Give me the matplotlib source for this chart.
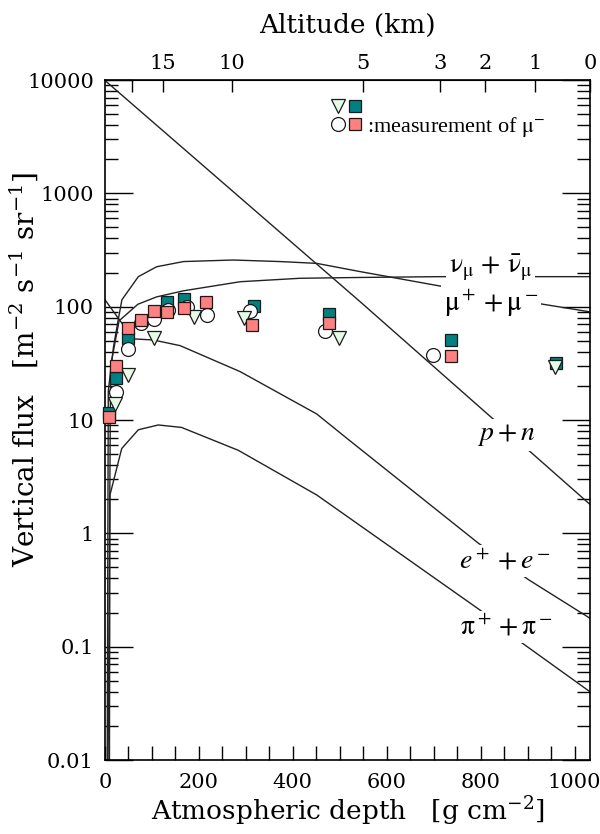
import numpy as np
import matplotlib
matplotlib.use("Agg")
import matplotlib.pyplot as plt
from matplotlib.ticker import LogLocator, MultipleLocator, NullFormatter
from matplotlib.legend_handler import HandlerTuple
from matplotlib.lines import Line2D

plt.rcParams['font.family'] = 'DejaVu Serif'
plt.rcParams['mathtext.fontset'] = 'dejavuserif'

# calculated vertical fluxes (depth in g cm^-2)
pn_x = [0, 543, 1033]
pn_y = [9900, 111, 1.8]

nu_x = [5, 12, 30, 70, 110, 167, 288, 415, 543, 714, 1033]
nu_y = [0.001, 30, 75, 105, 122, 138, 166, 178, 181, 184, 184]

mu_x = [4, 7, 18, 28, 36, 71, 110, 167, 273, 373, 451, 543, 714, 927, 1033]
mu_y = [0.001, 18, 44, 76, 115, 184, 225, 250, 258, 250, 241, 204, 152, 106, 90]

ee_x = [0, 60, 103, 160, 288, 451, 515, 795, 902, 1033]
ee_y = [115, 52, 50.8, 45.3, 26.7, 11.3, 6.9, 0.82, 0.39, 0.178]

pi_x = [9, 10.6, 35.6, 71, 113.5, 163, 284, 451, 799, 884, 1033]
pi_y = [0.001, 2.18, 5.6, 8.2, 9.04, 8.6, 5.4, 2.18, 0.21, 0.111, 0.040]

# measurements
tri_x = [21.3, 49.6, 104.4, 190.2, 296.7, 498.4, 958.5]
tri_y = [13.8, 24.9, 52.6, 80.5, 78.9, 52.6, 29.5]

teal_x = [8.5, 23.4, 48.3, 131.4, 168.3, 317.4, 477, 736.3, 960.6]
teal_y = [11.5, 23.3, 52.6, 110.6, 116, 101.4, 85.6, 50.8, 31.6]

circ_x = [23.4, 49.6, 76.7, 105, 134.8, 175.3, 217.9, 308.8, 468.6, 699.3]
circ_y = [17.8, 42, 71.3, 77.4, 93.5, 98.7, 84.3, 91.6, 61.4, 37.3]

salm_x = [8.5, 23.4, 48.3, 76.7, 105, 132.7, 168.3, 214.5, 313.7, 477, 736.3]
salm_y = [10.6, 30.0, 64.5, 76.3, 92.2, 90.3, 96.8, 110.6, 68.9, 72.2, 36.7]

# altitude axis
alt_depth = [56.9, 122.9, 269.9, 550.2, 713.5, 809.4, 915.9, 1033]
alt_labels = ['', '15', '10', '5', '3', '2', '1', '0']

y_ticks = [0.01, 0.1, 1, 10, 100, 1000, 10000]
y_labels = ['0.01', '0.1', '1', '10', '100', '1000', '10000']

fig = plt.figure(figsize=(6, 8.34), dpi=100)
ax = fig.add_axes([105 / 600, 74 / 834, 485 / 600, 680 / 834])
ax.set_yscale('log')
ax.set_xlim(0, 1033)
ax.set_ylim(0.01, 10000)

line_kw = dict(color='#222222', lw=1.0, zorder=2)
for xs, ys in [(pn_x, pn_y), (nu_x, nu_y), (mu_x, mu_y), (ee_x, ee_y), (pi_x, pi_y)]:
    ax.plot(xs, ys, **line_kw)

ax.plot(teal_x, teal_y, 's', ms=8.6, mfc='#008080', mec='#1a1a1a', mew=0.9, zorder=3, clip_on=False)
ax.plot(circ_x, circ_y, 'o', ms=10, mfc='white', mec='#1a1a1a', mew=0.9, zorder=4, clip_on=False)
ax.plot(tri_x, tri_y, 'v', ms=10.5, mfc='#e6fbe6', mec='#1a1a1a', mew=0.9, zorder=5, clip_on=False)
ax.plot(salm_x, salm_y, 's', ms=8.6, mfc='#ff8080', mec='#1a1a1a', mew=0.9, zorder=6, clip_on=False)

# curve labels
lab_kw = dict(ha='center', va='center', fontsize=20, family='Liberation Serif',
              math_fontfamily='stix', zorder=7,
              bbox=dict(facecolor='white', edgecolor='none', pad=2))
ax.text(822, 219, r'$\mathrm{\nu_\mu\,+\,\bar{\nu}_\mu}$', **lab_kw)
ax.text(822, 108, r'$\mathrm{\mu^+ + \mu^-}$', **lab_kw)
ax.text(854, 7.4, r'$p + n$', **lab_kw)
ax.text(852, 0.57, r'$e^+ + e^-$', **lab_kw)
ax.text(856, 0.149, r'$\mathrm{\pi^+ + \pi^-}$', **lab_kw)

# legend
h_tri = Line2D([], [], ls='none', marker='v', ms=10, mfc='#e6fbe6', mec='#1a1a1a', mew=0.9)
h_teal = Line2D([], [], ls='none', marker='s', ms=8, mfc='#008080', mec='#1a1a1a', mew=0.9)
h_circ = Line2D([], [], ls='none', marker='o', ms=10, mfc='white', mec='#1a1a1a', mew=0.9)
h_salm = Line2D([], [], ls='none', marker='s', ms=8, mfc='#ff8080', mec='#1a1a1a', mew=0.9)
leg = ax.legend([(h_tri, h_teal), (h_circ, h_salm)], ['', r':measurement of $\mathrm{\mu^{-}}$'],
                handler_map={tuple: HandlerTuple(ndivide=None, pad=0.05)},
                loc='upper left', bbox_to_anchor=(0.44, 0.99), frameon=False,
                handlelength=1.5, handletextpad=0.2, labelspacing=-0.15, borderpad=0,
                prop=dict(family='Liberation Serif', size=16, math_fontfamily='stix'))

# ticks
ax.set_yticks(y_ticks)
ax.set_yticklabels(y_labels)
ax.yaxis.set_minor_locator(LogLocator(base=10, subs=np.arange(2, 10), numticks=20))
ax.yaxis.set_minor_formatter(NullFormatter())
ax.set_xticks(range(0, 1001, 200))
ax.xaxis.set_minor_locator(MultipleLocator(50))
ax.tick_params(axis='y', which='both', direction='in', left=True, right=True, labelsize=15, pad=8)
ax.tick_params(axis='y', which='major', length=20, width=1.0)
ax.tick_params(axis='y', which='minor', length=9.5, width=1.0)
ax.tick_params(axis='x', which='both', direction='in', top=False, length=10, width=1.0,
               labelsize=15, pad=9)
for s in ax.spines.values():
    s.set_linewidth(1.2)

sec = ax.secondary_xaxis('top', functions=(lambda v: v, lambda v: v))
sec.set_xticks(alt_depth, alt_labels)
sec.tick_params(direction='in', length=8.5, width=1.0, labelsize=15, pad=5)
sec.set_xlabel('Altitude (km)', fontsize=19, labelpad=15)

ax.set_xlabel(r'Atmospheric depth   [g cm$^{-2}$]', fontsize=19, labelpad=2)
ax.set_ylabel(r'Vertical flux   [m$^{-2}$ s$^{-1}$ sr$^{-1}$]', fontsize=20)
ax.yaxis.set_label_coords(-0.134, 0.574)

fig.savefig('out.png', dpi=100)
